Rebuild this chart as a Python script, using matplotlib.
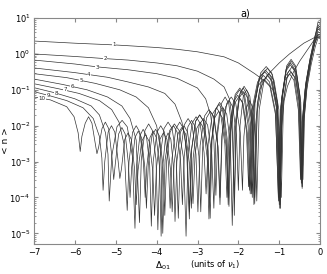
import numpy as np
import matplotlib
matplotlib.use("Agg")
import matplotlib.pyplot as plt

# =========================
# DATA (x = Delta_01, y = log10 <n>)
# =========================
X1 = [-7, -6, -5, -4.7, -4, -3.5, -3, -2.35, -2.0, -1.6, -1.36, -1.15, -1.05, -1.0, -0.98,
      -0.94, -0.88, -0.8, -0.65, -0.5, -0.35, -0.2, -0.08, 0]
LOGN1 = [0.36, 0.3, 0.25, 0.23, 0.18, 0.13, 0.06, -0.08, -0.25, -0.55, -0.75, -1.0, -1.4, -2.2, -4.3,
         -2.0, -1.3, -0.9, -0.5, -0.2, 0.05, 0.3, 0.5, 0.55]

X2 = [-7, -6, -5.26, -4.7, -4, -3.5, -3, -2.6, -2.35, -2.22, -2.14, -2.1,
      -2.052, -1.956, -1.86, -1.764, -1.668, -1.62,
      -1.58, -1.53, -1.48, -1.3, -1.0, -0.75, -0.4, -0.15, 0]
LOGN2 = [0.0, -0.07, -0.13, -0.17, -0.25, -0.33, -0.48, -0.7, -0.92, -1.25, -1.9, -4.5,
         -1.9, -1.08, -0.9, -1.08, -1.9, -4.2,
         -2.0, -1.4, -1.0, -0.6, -0.25, 0.0, 0.3, 0.45, 0.47]

X3 = [-7, -6, -5.46, -4.7, -4, -3.5, -3.0, -2.8, -2.68, -2.6, -2.55,
      -2.505, -2.415, -2.325, -2.235, -2.145, -2.1,
      -2.056, -1.968, -1.88, -1.792, -1.704, -1.66,
      -1.592, -1.456, -1.32, -1.184, -1.048, -0.98,
      -0.926, -0.818, -0.71, -0.602, -0.494, -0.44,
      -0.4, -0.33, -0.22, -0.12, -0.05, 0]
LOGN3 = [-0.17, -0.28, -0.36, -0.44, -0.55, -0.68, -0.95, -1.25, -1.7, -2.4, -3.94,
         -2.2, -1.38, -1.2, -1.38, -2.2, -4.0,
         -1.95, -1.13, -0.95, -1.13, -1.95, -4.0,
         -1.35, -0.53, -0.35, -0.53, -1.35, -4.3,
         -1.2, -0.38, -0.2, -0.38, -1.2, -3.7,
         -1.8, -0.8, -0.1, 0.5, 0.9, 0.85]

X4 = [-7, -6, -5.2, -4.7, -4.2, -3.8, -3.55, -3.38, -3.27, -3.2,
      -3.149, -3.047, -2.945, -2.843, -2.741, -2.69,
      -2.644, -2.552, -2.46, -2.368, -2.276, -2.23,
      -2.178, -2.074, -1.97, -1.866, -1.762, -1.71,
      -1.639, -1.497, -1.355, -1.213, -1.071, -1.0,
      -0.946, -0.838, -0.73, -0.622, -0.514, -0.46,
      -0.42, -0.35, -0.24, -0.14, -0.05, 0]
LOGN4 = [-0.39, -0.52, -0.65, -0.78, -0.92, -1.1, -1.4, -1.9, -2.6, -4.6,
         -2.7, -1.88, -1.7, -1.88, -2.7, -4.58,
         -2.35, -1.53, -1.35, -1.53, -2.35, -4.25,
         -2.0, -1.18, -1.0, -1.18, -2.0, -3.9,
         -1.5, -0.68, -0.5, -0.68, -1.5, -4.2,
         -1.3, -0.48, -0.3, -0.48, -1.3, -3.6,
         -1.8, -0.8, -0.1, 0.45, 0.8, 0.75]

X5 = [-7, -6.2, -5.5, -4.9, -4.5, -4.2, -4.0, -3.9, -3.85,
      -3.793, -3.679, -3.565, -3.451, -3.337, -3.28,
      -3.231, -3.133, -3.035, -2.937, -2.839, -2.79,
      -2.739, -2.637, -2.535, -2.433, -2.331, -2.28,
      -2.227, -2.121, -2.015, -1.909, -1.803, -1.75,
      -1.677, -1.531, -1.385, -1.239, -1.093, -1.02,
      -0.965, -0.855, -0.745, -0.635, -0.525, -0.47,
      -0.43, -0.36, -0.25, -0.14, -0.05, 0]
LOGN5 = [-0.55, -0.66, -0.82, -1.0, -1.2, -1.5, -2.0, -2.7, -5.0,
         -2.95, -2.13, -1.95, -2.13, -2.95, -5.08,
         -2.75, -1.93, -1.75, -1.93, -2.75, -3.9,
         -2.5, -1.68, -1.5, -1.68, -2.5, -4.0,
         -2.15, -1.33, -1.15, -1.33, -2.15, -3.7,
         -1.6, -0.78, -0.6, -0.78, -1.6, -4.1,
         -1.45, -0.63, -0.45, -0.63, -1.45, -3.5,
         -1.8, -0.9, -0.15, 0.4, 0.75, 0.7]

X6 = [-7, -6.3, -5.7, -5.2, -4.85, -4.65, -4.5, -4.42,
      -4.375, -4.285, -4.195, -4.105, -4.015, -3.97,
      -3.92, -3.82, -3.72, -3.62, -3.52, -3.47,
      -3.422, -3.326, -3.23, -3.134, -3.038, -2.99,
      -2.936, -2.828, -2.72, -2.612, -2.504, -2.45,
      -2.395, -2.285, -2.175, -2.065, -1.955, -1.9,
      -1.865, -1.795, -1.725, -1.655, -1.585, -1.55,
      -1.49, -1.37, -1.25, -1.13, -1.01, -0.95,
      -0.897, -0.791, -0.685, -0.579, -0.473, -0.42,
      -0.38, -0.31, -0.21, -0.12, -0.05, 0]
LOGN6 = [-0.7, -0.85, -1.0, -1.2, -1.45, -1.8, -2.4, -4.7,
         -2.95, -2.13, -1.95, -2.13, -2.95, -4.9,
         -2.9, -2.08, -1.9, -2.08, -2.9, -4.58,
         -2.8, -1.98, -1.8, -1.98, -2.8, -4.4,
         -2.55, -1.73, -1.55, -1.73, -2.55, -4.2,
         -2.2, -1.38, -1.2, -1.38, -2.2, -3.8,
         -2.3, -1.48, -1.3, -1.48, -2.3, -4.1,
         -1.55, -0.73, -0.55, -0.73, -1.55, -4.0,
         -1.35, -0.53, -0.35, -0.53, -1.35, -3.5,
         -1.7, -0.8, -0.1, 0.4, 0.7, 0.65]

X7 = [-7, -6.4, -5.9, -5.4, -5.1, -4.92, -4.8, -4.72,
      -4.676, -4.588, -4.5, -4.412, -4.324, -4.28,
      -4.241, -4.163, -4.085, -4.007, -3.929, -3.89,
      -3.856, -3.788, -3.72, -3.652, -3.584, -3.55,
      -3.506, -3.418, -3.33, -3.242, -3.154, -3.11,
      -3.059, -2.957, -2.855, -2.753, -2.651, -2.6,
      -2.555, -2.465, -2.375, -2.285, -2.195, -2.15,
      -2.095, -1.985, -1.875, -1.765, -1.655, -1.6,
      -1.538, -1.414, -1.29, -1.166, -1.042, -0.98,
      -0.926, -0.818, -0.71, -0.602, -0.494, -0.44,
      -0.4, -0.33, -0.22, -0.12, -0.05, 0]
LOGN7 = [-0.83, -0.97, -1.1, -1.3, -1.55, -1.9, -2.5, -4.36,
         -3.0, -2.18, -2.0, -2.18, -3.0, -4.0,
         -3.15, -2.33, -2.15, -2.33, -3.15, -5.08,
         -3.2, -2.38, -2.2, -2.38, -3.2, -4.67,
         -3.0, -2.18, -2.0, -2.18, -3.0, -4.17,
         -2.8, -1.98, -1.8, -1.98, -2.8, -4.3,
         -2.5, -1.68, -1.5, -1.68, -2.5, -4.78,
         -2.05, -1.23, -1.05, -1.23, -2.05, -4.17,
         -1.4, -0.58, -0.4, -0.58, -1.4, -4.3,
         -1.15, -0.33, -0.15, -0.33, -1.15, -3.75,
         -1.7, -0.8, -0.15, 0.35, 0.62, 0.58]

X8 = [-7, -6.5, -6.0, -5.6, -5.4, -5.25, -5.19, -5.16,
      -5.097, -4.971, -4.845, -4.719, -4.593, -4.53,
      -4.49, -4.41, -4.33, -4.25, -4.17, -4.13,
      -4.084, -3.992, -3.9, -3.808, -3.716, -3.67,
      -3.623, -3.529, -3.435, -3.341, -3.247, -3.2,
      -3.15, -3.05, -2.95, -2.85, -2.75, -2.7,
      -2.655, -2.565, -2.475, -2.385, -2.295, -2.25,
      -2.193, -2.079, -1.965, -1.851, -1.737, -1.68,
      -1.612, -1.476, -1.34, -1.204, -1.068, -1.0,
      -0.945, -0.835, -0.725, -0.615, -0.505, -0.45,
      -0.41, -0.34, -0.23, -0.13, -0.05, 0]
LOGN8 = [-0.94, -1.08, -1.25, -1.45, -1.7, -2.2, -2.8, -4.1,
         -2.85, -2.03, -1.85, -2.03, -2.85, -4.86,
         -3.1, -2.28, -2.1, -2.28, -3.1, -4.8,
         -3.0, -2.18, -2.0, -2.18, -3.0, -4.3,
         -2.9, -2.08, -1.9, -2.08, -2.9, -4.4,
         -2.7, -1.88, -1.7, -1.88, -2.7, -4.0,
         -2.4, -1.58, -1.4, -1.58, -2.4, -4.2,
         -1.95, -1.13, -0.95, -1.13, -1.95, -3.9,
         -1.45, -0.63, -0.45, -0.63, -1.45, -4.1,
         -1.25, -0.43, -0.25, -0.43, -1.25, -3.6,
         -1.7, -0.85, -0.15, 0.3, 0.55, 0.52]

X9 = [-7, -6.6, -6.2, -5.8, -5.55, -5.4, -5.34, -5.31,
      -5.269, -5.187, -5.105, -5.023, -4.941, -4.9,
      -4.86, -4.78, -4.7, -4.62, -4.54, -4.5,
      -4.455, -4.365, -4.275, -4.185, -4.095, -4.05,
      -4.007, -3.921, -3.835, -3.749, -3.663, -3.62,
      -3.573, -3.479, -3.385, -3.291, -3.197, -3.15,
      -3.107, -3.021, -2.935, -2.849, -2.763, -2.72,
      -2.673, -2.579, -2.485, -2.391, -2.297, -2.25,
      -2.198, -2.094, -1.99, -1.886, -1.782, -1.73,
      -1.659, -1.517, -1.375, -1.233, -1.091, -1.02,
      -0.966, -0.858, -0.75, -0.642, -0.534, -0.48,
      -0.44, -0.37, -0.26, -0.15, -0.05, 0]
LOGN9 = [-1.05, -1.17, -1.3, -1.5, -1.8, -2.3, -2.9, -3.8,
         -3.0, -2.18, -2.0, -2.18, -3.0, -3.47,
         -3.2, -2.38, -2.2, -2.38, -3.2, -4.2,
         -3.25, -2.43, -2.25, -2.43, -3.25, -4.5,
         -3.2, -2.38, -2.2, -2.38, -3.2, -4.4,
         -3.05, -2.23, -2.05, -2.23, -3.05, -4.3,
         -2.9, -2.08, -1.9, -2.08, -2.9, -4.6,
         -2.6, -1.78, -1.6, -1.78, -2.6, -4.0,
         -2.2, -1.38, -1.2, -1.38, -2.2, -3.8,
         -1.7, -0.88, -0.7, -0.88, -1.7, -4.0,
         -1.55, -0.73, -0.55, -0.73, -1.55, -3.5,
         -1.9, -1.0, -0.25, 0.25, 0.5, 0.48]

X10 = [-7, -6.6, -6.2, -6.02, -5.92, -5.87,
       -5.829, -5.747, -5.665, -5.583, -5.501, -5.46,
       -5.419, -5.337, -5.255, -5.173, -5.091, -5.05,
       -5.01, -4.93, -4.85, -4.77, -4.69, -4.65,
       -4.61, -4.53, -4.45, -4.37, -4.29, -4.25,
       -4.205, -4.115, -4.025, -3.935, -3.845, -3.8,
       -3.757, -3.671, -3.585, -3.499, -3.413, -3.37,
       -3.325, -3.235, -3.145, -3.055, -2.965, -2.92,
       -2.873, -2.779, -2.685, -2.591, -2.497, -2.45,
       -2.405, -2.315, -2.225, -2.135, -2.045, -2.0,
       -1.96, -1.88, -1.8, -1.72, -1.64, -1.6,
       -1.538, -1.414, -1.29, -1.166, -1.042, -0.98,
       -0.926, -0.818, -0.71, -0.602, -0.494, -0.44,
       -0.4, -0.33, -0.22, -0.12, -0.05, 0]
LOGN10 = [-1.2, -1.28, -1.47, -1.75, -2.2, -2.72,
          -2.3, -1.93, -1.75, -1.93, -2.5, -2.78,
          -2.6, -2.08, -1.9, -2.08, -2.9, -3.5,
          -3.05, -2.23, -2.05, -2.23, -3.05, -4.0,
          -3.15, -2.33, -2.15, -2.33, -3.15, -4.3,
          -3.1, -2.28, -2.1, -2.28, -3.1, -4.5,
          -3.0, -2.18, -2.0, -2.18, -3.0, -4.2,
          -2.85, -2.03, -1.85, -2.03, -2.85, -4.4,
          -2.6, -1.78, -1.6, -1.78, -2.6, -4.0,
          -2.3, -1.48, -1.3, -1.48, -2.3, -3.8,
          -2.0, -1.18, -1.0, -1.18, -2.0, -4.0,
          -1.6, -0.78, -0.6, -0.78, -1.6, -4.2,
          -1.5, -0.68, -0.5, -0.68, -1.5, -3.7,
          -1.9, -1.0, -0.3, 0.2, 0.45, 0.43]

CURVES_X = [X1, X2, X3, X4, X5, X6, X7, X8, X9, X10]
CURVES_LOGN = [LOGN1, LOGN2, LOGN3, LOGN4, LOGN5, LOGN6, LOGN7, LOGN8, LOGN9, LOGN10]

# labels written on the smooth part of each curve
LABELS = ["1", "2", "3", "4", "5", "6", "7", "8", "9", "10"]
LABEL_X = [-5.04, -5.26, -5.46, -5.66, -5.85, -6.07, -6.24, -6.46, -6.66, -6.8]
LABEL_LOGN = [0.25, -0.13, -0.37, -0.58, -0.74, -0.9, -1.0, -1.1, -1.16, -1.25]

# =========================
# FIGURE
# =========================
fig = plt.figure(figsize=(3.27, 2.74), dpi=100)
ax = fig.add_axes([0.104, 0.109, 0.875, 0.825])

for xs, ls in zip(CURVES_X, CURVES_LOGN):
    ax.plot(xs, 10.0 ** np.array(ls), color="#333333", lw=0.5)

for lab, lx, ly in zip(LABELS, LABEL_X, LABEL_LOGN):
    ax.text(lx, 10.0 ** ly, lab, fontsize=4, ha="center", va="center", color="#222222",
            bbox=dict(boxstyle="square,pad=0.05", fc="white", ec="none"))

ax.set_yscale("log")
ax.set_xlim(-7, 0)
ax.set_ylim(5e-6, 10)
ax.set_xticks(range(-7, 1))
ax.set_yticks([1e-5, 1e-4, 1e-3, 1e-2, 1e-1, 1e0, 1e1])

for sp in ax.spines.values():
    sp.set_color("#888888")
    sp.set_linewidth(0.8)
ax.tick_params(which="both", direction="in", top=True, right=True, color="#888888",
               labelsize=6, pad=2.5)
ax.tick_params(which="major", length=3)
ax.tick_params(which="minor", length=1.5)

fig.text(6 / 327, 133 / 274, "< n >", fontsize=6.5, rotation=90, ha="center", va="center")
fig.text(163 / 327, 2 / 274, r"$\Delta_{01}$", fontsize=6.5, ha="center", va="bottom")
fig.text(190 / 327, 3 / 274, r"(units of $\nu_1$)", fontsize=6, ha="left", va="bottom")
fig.text(245 / 327, 258 / 274, "a)", fontsize=7, ha="center")

fig.savefig("out.png", dpi=100)
